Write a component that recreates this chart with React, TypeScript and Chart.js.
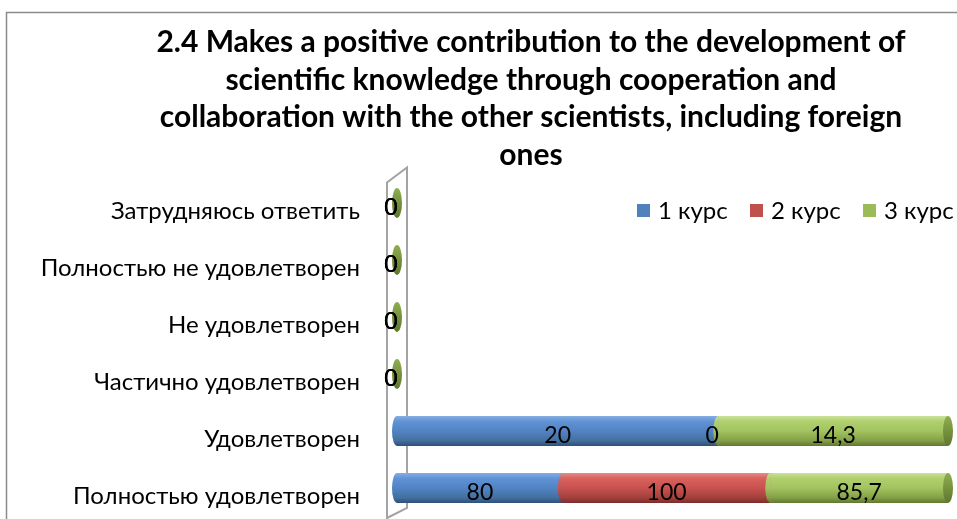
import { useEffect, useRef } from "react";
import { Chart, registerables } from "chart.js";

Chart.register(...registerables);

const TITLE_LINES = [
  "2.4 Makes a positive contribution to the development of",
  "scientific knowledge through cooperation and",
  "collaboration with the other scientists, including foreign",
  "ones",
];
const CATEGORIES = [
  "Затрудняюсь ответить",
  "Полностью не удовлетворен",
  "Не удовлетворен",
  "Частично удовлетворен",
  "Удовлетворен",
  "Полностью удовлетворен",
];
const SERIES_NAMES = ["1 курс", "2 курс", "3 курс"];
const COURSE_1 = [0, 0, 0, 0, 20, 80];
const COURSE_2 = [0, 0, 0, 0, 0, 100];
const COURSE_3 = [0, 0, 0, 0, 14.3, 85.7];

const SERIES_VALUES = [COURSE_1, COURSE_2, COURSE_3];

const PALETTE = [
  { base: "#4F81BD", stops: ["#86AEE0", "#5F93D6", "#5283C3", "#44709F", "#2E4F7A"], cap: "#3F6AA0" },
  { base: "#C0504D", stops: ["#E58C89", "#D9615E", "#C8524F", "#A4403D", "#7A2E2C"], cap: "#A0403D" },
  { base: "#9BBB59", stops: ["#CBE29A", "#B0D06E", "#A2C35F", "#84A046", "#5F7832"], cap: "#76923C" },
];

const FONT = "Lato, 'Open Sans', 'Liberation Sans', sans-serif";

const fmt = (v: number) => String(v).replace(".", ",");

const totals = CATEGORIES.map((_, i) => SERIES_VALUES.reduce((s, arr) => s + arr[i], 0));
const shares = SERIES_VALUES.map((arr) => arr.map((v, i) => (totals[i] ? (v / totals[i]) * 100 : 0)));

function makeGrad(ctx: CanvasRenderingContext2D, top: number, h: number, stops: string[]) {
  const g = ctx.createLinearGradient(0, top, 0, top + h);
  g.addColorStop(0, stops[0]);
  g.addColorStop(0.18, stops[1]);
  g.addColorStop(0.5, stops[2]);
  g.addColorStop(0.82, stops[3]);
  g.addColorStop(1, stops[4]);
  return g;
}

const decorPlugin = {
  id: "decor",
  beforeDraw(chart: any) {
    const ctx: CanvasRenderingContext2D = chart.ctx;
    const { width, height, chartArea } = chart;
    ctx.save();
    ctx.fillStyle = "#ffffff";
    ctx.fillRect(0, 0, width, height);
    // outer frame
    ctx.strokeStyle = "#8a8a8a";
    ctx.lineWidth = 1.5;
    ctx.beginPath();
    ctx.moveTo(6.5, height);
    ctx.lineTo(6.5, 12.5);
    ctx.lineTo(width, 12.5);
    ctx.stroke();
    // 3D wall
    const L = chartArea.left;
    const T = chartArea.top;
    ctx.strokeStyle = "#a3a3a3";
    ctx.lineWidth = 2;
    ctx.beginPath();
    ctx.moveTo(L - 10, height + 2);
    ctx.lineTo(L - 10, T + 8);
    ctx.lineTo(L + 10, T - 7);
    ctx.lineTo(L + 10, height - 11);
    ctx.lineTo(L - 10, height - 1);
    ctx.stroke();
    // title
    ctx.fillStyle = "#000000";
    ctx.textAlign = "center";
    ctx.textBaseline = "middle";
    ctx.font = `bold 30px ${FONT}`;
    const ys = [42, 80, 117, 155];
    TITLE_LINES.forEach((line, i) => ctx.fillText(line, 531, ys[i]));
    // legend
    ctx.font = `24px ${FONT}`;
    ctx.textAlign = "left";
    const lx = [637, 750, 863];
    SERIES_NAMES.forEach((name, i) => {
      ctx.fillStyle = PALETTE[i].base;
      ctx.fillRect(lx[i], 204, 13, 13);
      ctx.fillStyle = "#000000";
      ctx.fillText(name, lx[i] + 21, 211);
    });
    ctx.restore();
  },
  afterDatasetsDraw(chart: any) {
    const ctx: CanvasRenderingContext2D = chart.ctx;
    const n = chart.data.datasets.length;
    ctx.save();
    for (let d = 0; d < n; d++) {
      const meta = chart.getDatasetMeta(d);
      const pal = PALETTE[d];
      meta.data.forEach((el: any) => {
        const h = el.height;
        const top = el.y - h / 2;
        const x0 = Math.min(el.base, el.x);
        const x1 = Math.max(el.base, el.x);
        const g = makeGrad(ctx, top, h, pal.stops);
        if (x1 - x0 > 0.5) {
          ctx.fillStyle = g;
          ctx.fillRect(x0, top, x1 - x0, h);
          ctx.beginPath();
          ctx.ellipse(x0, el.y, 5, h / 2, 0, Math.PI / 2, (Math.PI * 3) / 2);
          ctx.fill();
        }
        if (d === n - 1) {
          const cg = ctx.createLinearGradient(0, top, 0, top + h);
          cg.addColorStop(0, "#8FAE52");
          cg.addColorStop(0.5, pal.cap);
          cg.addColorStop(1, "#5E7730");
          ctx.fillStyle = cg;
          ctx.beginPath();
          ctx.ellipse(x1, el.y, 5, h / 2, 0, 0, Math.PI * 2);
          ctx.fill();
        }
      });
    }
    // value labels
    ctx.fillStyle = "#000000";
    ctx.font = `23px ${FONT}`;
    ctx.textAlign = "center";
    ctx.textBaseline = "middle";
    for (let d = 0; d < n; d++) {
      const meta = chart.getDatasetMeta(d);
      meta.data.forEach((el: any, i: number) => {
        const v = SERIES_VALUES[d][i];
        const x = v === 0 ? Math.min(el.base, el.x) - 6 : (el.base + el.x) / 2;
        ctx.fillText(fmt(v), x, el.y + 5);
      });
    }
    ctx.restore();
  },
};

export default function App() {
  const ref = useRef<HTMLCanvasElement | null>(null);
  useEffect(() => {
    document.body.style.margin = "0";
    document.body.style.overflow = "hidden";
    const canvas = ref.current;
    if (!canvas) return;
    const chart = new Chart(canvas, {
      type: "bar",
      data: {
        labels: CATEGORIES,
        datasets: SERIES_NAMES.map((name, s) => ({
          label: name,
          data: shares[s],
          backgroundColor: PALETTE[s].base,
          borderWidth: 0,
          categoryPercentage: 1,
          barPercentage: 30 / 57,
        })),
      },
      options: {
        indexAxis: "y",
        responsive: false,
        animation: false,
        events: [],
        layout: { padding: { top: 174.5, bottom: 2.5, left: 0, right: 9 } },
        plugins: { legend: { display: false }, title: { display: false }, tooltip: { enabled: false } },
        scales: {
          x: { type: "linear", min: 0, max: 100, stacked: true, display: false },
          y: {
            stacked: true,
            grid: { display: false, drawTicks: false },
            border: { display: false },
            ticks: { color: "#000000", font: { size: 24, family: FONT }, padding: 37, labelOffset: 8 },
            afterFit: (scale: any) => {
              scale.width = 397;
              scale.paddingTop = 0;
              scale.paddingBottom = 0;
            },
          },
        },
      },
      plugins: [decorPlugin],
    } as any);
    return () => chart.destroy();
  }, []);
  return <canvas ref={ref} width={957} height={519} style={{ display: "block" }} />;
}
